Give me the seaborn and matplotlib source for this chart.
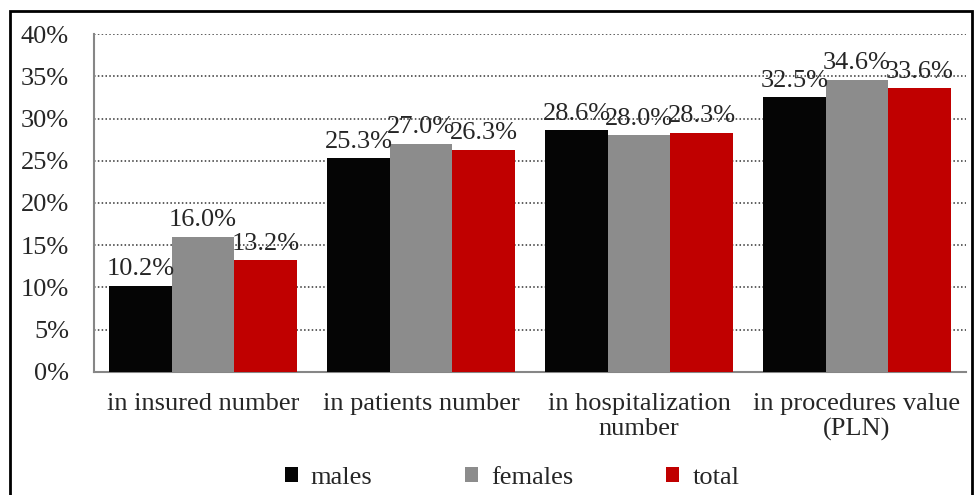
import pandas as pd
import matplotlib.pyplot as plt
import seaborn as sns
from matplotlib.patches import Rectangle

# Data
categories = ["in insured number", "in patients number",
              "in hospitalization\nnumber", "in procedures value\n(PLN)"]
groups = ["males", "females", "total"]
males = [10.2, 25.3, 28.6, 32.5]
females = [16.0, 27.0, 28.0, 34.6]
total = [13.2, 26.3, 28.3, 33.6]
colors = ["#050505", "#8c8c8c", "#c00000"]

df = pd.DataFrame({
    "category": categories * 3,
    "group": [g for g in groups for _ in categories],
    "value": males + females + total,
})

sns.set_style("white")
plt.rcParams["font.family"] = ["Liberation Serif", "DejaVu Serif"]
fs = 19

fig = plt.figure(figsize=(9.77, 4.95), dpi=100)
ax = fig.add_axes([0.0962, 0.2485, 0.8925, 0.6828])

sns.barplot(data=df, x="category", y="value", hue="group", order=categories,
            hue_order=groups, palette=colors, width=0.86, gap=0,
            linewidth=0, saturation=1, ax=ax, zorder=3)

# Data labels
for cont in ax.containers:
    ax.bar_label(cont, labels=[f"{v:.1f}%" for v in cont.datavalues],
                 padding=4, fontsize=fs, zorder=4)

ax.set_ylim(0, 40)
ax.set_xlim(-0.5, 3.5)
ax.set_yticks(range(0, 41, 5))
ax.set_yticklabels([f"{t}%" for t in range(0, 41, 5)], fontsize=fs)
ax.set_xticks(range(4))
ax.set_xticklabels(categories, fontsize=fs, linespacing=1.2)
ax.set_xticks([-0.5, 0.5, 1.5, 2.5, 3.5], minor=True)
ax.tick_params(axis="x", which="major", length=0, pad=15)
ax.tick_params(axis="x", which="minor", length=8, width=1.5, color="#868686",
               direction="out")
ax.tick_params(axis="y", length=8, width=1.5, color="#868686", direction="out",
               pad=10)
ax.set_xlabel("")
ax.set_ylabel("")

ax.yaxis.grid(True, linestyle=(0, (1, 1.5)), color="#333333", linewidth=1.1,
              zorder=0)
ax.set_axisbelow(True)
for s in ["top", "right"]:
    ax.spines[s].set_visible(False)
for s in ["left", "bottom"]:
    ax.spines[s].set_color("#868686")
    ax.spines[s].set_linewidth(1.5)

handles, labels = ax.get_legend_handles_labels()
ax.legend(handles, labels, loc="center", bbox_to_anchor=(0.524, 0.034),
          bbox_transform=fig.transFigure, ncol=3, frameon=False, fontsize=fs,
          handlelength=0.5, handleheight=0.5, handletextpad=0.5,
          columnspacing=3.5)

# Outer border
fig.patches.append(Rectangle((10 / 977, -0.05), 962 / 977, 1.05 - 11 / 495,
                             transform=fig.transFigure, fill=False,
                             edgecolor="black", linewidth=2))

fig.savefig("out.png", dpi=100)
